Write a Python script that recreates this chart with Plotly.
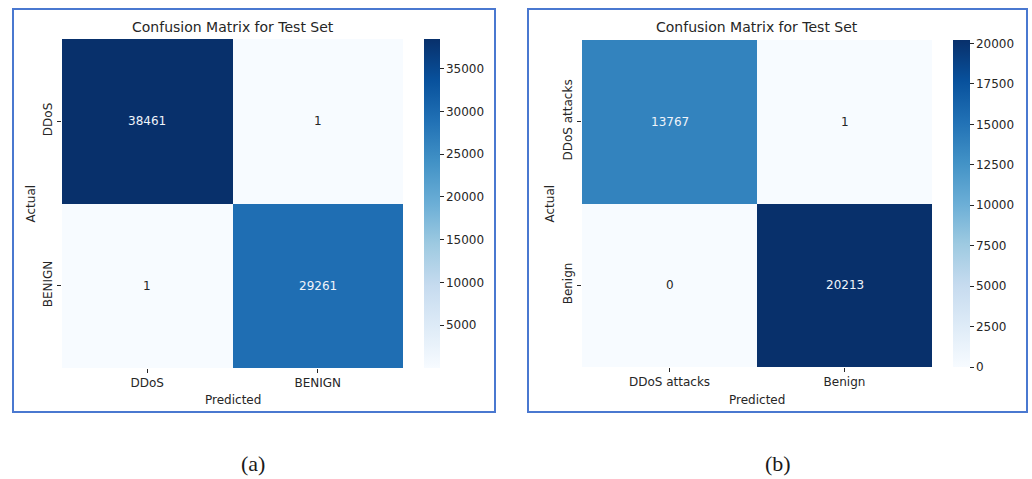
import math
import plotly.graph_objects as go

# Test-set confusion matrices for the two classifiers
labels_a = ["DDoS", "BENIGN"]
matrix_a = [[38461, 1],
            [1, 29261]]

labels_b = ["DDoS attacks", "Benign"]
matrix_b = [[13767, 1],
            [0, 20213]]

title_text = "Confusion Matrix for Test Set"
captions = ["(a)", "(b)"]

W, H = 1032, 479

# matplotlib "Blues" colormap
blues = [
    [0.000, "#f7fbff"], [0.125, "#deebf7"], [0.250, "#c6dbef"],
    [0.375, "#9ecae1"], [0.500, "#6baed6"], [0.625, "#4292c6"],
    [0.750, "#2171b5"], [0.875, "#08519c"], [1.000, "#08306b"],
]

FONT = "DejaVu Sans"
TXT = "#262626"


def px_x(p):
    return p / W


def px_y(p):
    return 1 - p / H


panels = [
    dict(labels=labels_a, z=matrix_a, hm=(62, 403, 39, 368),
         cb=(424, 16), dtick=5000, frame=(13, 495, 9, 412), cap_x=253,
         ylab_x=31),
    dict(labels=labels_b, z=matrix_b, hm=(582, 932, 40, 367),
         cb=(953, 17), dtick=2500, frame=(528, 1027, 9, 412), cap_x=778,
         ylab_x=550),
]

fig = go.Figure()
annotations = []
shapes = []


def paper_text(x, y, text, size, family=FONT, color=TXT, angle=0):
    return dict(x=px_x(x), y=px_y(y), xref="paper", yref="paper",
                xanchor="center", yanchor="middle", text=text,
                showarrow=False, textangle=angle,
                font=dict(family=family, size=size, color=color))


for i, p in enumerate(panels, start=1):
    xa = "x" if i == 1 else f"x{i}"
    ya = "y" if i == 1 else f"y{i}"
    x0, x1, y0, y1 = p["hm"]
    flat = [v for row in p["z"] for v in row]
    zmin, zmax = min(flat), max(flat)
    dt = p["dtick"]
    cb_ticks = list(range(dt * math.ceil(zmin / dt), zmax + 1, dt))

    fig.add_trace(go.Heatmap(
        z=p["z"], x=p["labels"], y=p["labels"],
        xaxis=xa, yaxis=ya,
        colorscale=blues, zmin=zmin, zmax=zmax,
        colorbar=dict(
            x=px_x(p["cb"][0]), xanchor="left", xpad=0, ypad=0,
            y=px_y((y0 + y1) / 2), yanchor="middle",
            lenmode="pixels", len=y1 - y0,
            thickness=p["cb"][1], outlinewidth=0,
            tickmode="array", tickvals=cb_ticks,
            ticktext=[str(t) for t in cb_ticks],
            ticks="outside", ticklen=4, tickwidth=1, tickcolor=TXT,
            tickfont=dict(family=FONT, size=12, color=TXT),
        ),
    ))

    axis_common = dict(
        showgrid=False, zeroline=False, showline=False,
        ticks="outside", ticklen=4, tickwidth=1, tickcolor=TXT,
        tickfont=dict(family=FONT, size=12, color=TXT),
        automargin=False, fixedrange=True,
    )
    fig.layout[f"xaxis{'' if i == 1 else i}"] = dict(
        axis_common, domain=[px_x(x0), px_x(x1)], anchor=ya)
    fig.layout[f"yaxis{'' if i == 1 else i}"] = dict(
        axis_common, domain=[px_y(y1), px_y(y0)], anchor=xa,
        autorange="reversed", tickangle=-90)

    # cell values, light text on dark cells
    for r, row_label in enumerate(p["labels"]):
        for c, col_label in enumerate(p["labels"]):
            v = p["z"][r][c]
            frac = (v - zmin) / (zmax - zmin)
            annotations.append(dict(
                x=col_label, y=row_label, xref=xa, yref=ya,
                text=str(v), showarrow=False,
                font=dict(family=FONT, size=12,
                          color="#f0f4fa" if frac > 0.5 else TXT),
            ))

    cx = (x0 + x1) / 2
    annotations += [
        paper_text(cx, 27, title_text, 14),
        paper_text(cx, 400, "Predicted", 12),
        paper_text(p["ylab_x"], (y0 + y1) / 2, "Actual", 12, angle=-90),
        paper_text(p["cap_x"], 463, captions[i - 1], 22,
                   family="Liberation Serif", color="#1a1a1a"),
    ]

    fx0, fx1, fy0, fy1 = p["frame"]
    shapes.append(dict(
        type="rect", xref="paper", yref="paper",
        x0=px_x(fx0), x1=px_x(fx1), y0=px_y(fy1), y1=px_y(fy0),
        line=dict(color="#4a78d0", width=2), fillcolor="rgba(0,0,0,0)",
    ))

fig.update_layout(
    width=W, height=H,
    margin=dict(l=0, r=0, t=0, b=0),
    paper_bgcolor="white", plot_bgcolor="white",
    annotations=annotations, shapes=shapes,
    showlegend=False,
)

fig.write_html("out.html")
